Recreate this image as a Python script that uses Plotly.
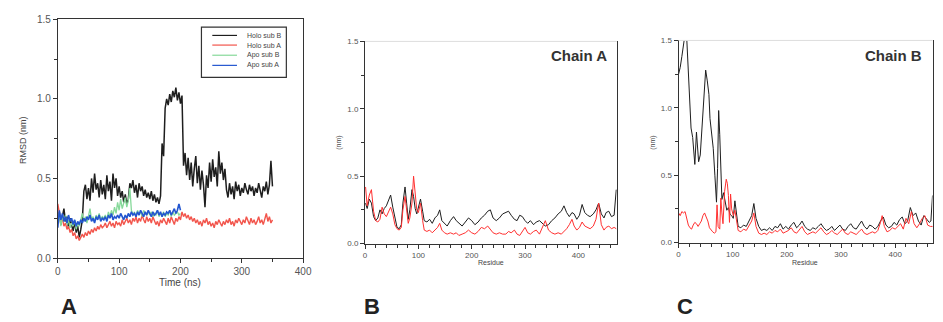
import numpy as np
import plotly.graph_objects as go

# ---------------- Panel A data (RMSD vs time, sampled every 2.5 ns) ----------------
dt = 2.5
holo_sub_b = [
    0.22, 0.29, 0.21, 0.27, 0.31, 0.23, 0.26, 0.19, 0.25, 0.21,
    0.17, 0.23, 0.16, 0.20, 0.13, 0.18, 0.24, 0.42, 0.46, 0.37,
    0.44, 0.36, 0.50, 0.41, 0.53, 0.43, 0.47, 0.38, 0.49, 0.40,
    0.46, 0.37, 0.52, 0.42, 0.48, 0.36, 0.53, 0.44, 0.50, 0.39,
    0.45, 0.38, 0.42, 0.35, 0.40, 0.34, 0.37, 0.47, 0.44, 0.49,
    0.41, 0.46, 0.38, 0.47, 0.42, 0.45, 0.39, 0.43, 0.38, 0.41,
    0.37, 0.42, 0.36, 0.40, 0.35, 0.38, 0.34, 0.39, 0.72, 0.64,
    0.94, 1.00, 0.96, 1.03, 0.98, 1.05, 1.01, 1.07, 0.99, 1.04,
    0.97, 1.02, 0.58, 0.66, 0.52, 0.63, 0.49, 0.60, 0.45, 0.56,
    0.64, 0.47, 0.58, 0.43, 0.55, 0.46, 0.32, 0.52, 0.44, 0.60,
    0.48, 0.62, 0.51, 0.57, 0.45, 0.67, 0.53, 0.60, 0.49, 0.56,
    0.43, 0.38, 0.47, 0.40, 0.45, 0.37, 0.48, 0.42, 0.46, 0.39,
    0.44, 0.41, 0.47, 0.43, 0.40, 0.46, 0.42, 0.45, 0.39, 0.44,
    0.41, 0.47, 0.43, 0.38, 0.45, 0.42, 0.48, 0.40, 0.46, 0.61,
    0.45,
]
holo_sub_a = [
    0.34, 0.27, 0.23, 0.25, 0.20, 0.22, 0.18, 0.20, 0.16, 0.18,
    0.14, 0.16, 0.12, 0.14, 0.11, 0.13, 0.15, 0.13, 0.16, 0.14,
    0.17, 0.15, 0.18, 0.16, 0.19, 0.17, 0.20, 0.18, 0.21, 0.19,
    0.20, 0.22, 0.19, 0.21, 0.23, 0.20, 0.22, 0.19, 0.23, 0.21,
    0.22, 0.20, 0.24, 0.21, 0.23, 0.25, 0.22, 0.24, 0.21, 0.25,
    0.23, 0.26, 0.22, 0.25, 0.23, 0.27, 0.24, 0.22, 0.26, 0.23,
    0.25, 0.22, 0.26, 0.24, 0.21, 0.23, 0.20, 0.24, 0.22, 0.25,
    0.23, 0.21, 0.25, 0.22, 0.26, 0.24, 0.21, 0.25, 0.23, 0.26,
    0.24, 0.29, 0.26, 0.28, 0.25, 0.27, 0.24, 0.26, 0.23, 0.25,
    0.22, 0.24, 0.21, 0.23, 0.20, 0.24, 0.22, 0.25, 0.21, 0.23,
    0.20, 0.22, 0.19, 0.23, 0.21, 0.24, 0.22, 0.20, 0.23, 0.21,
    0.24, 0.22, 0.25, 0.21, 0.23, 0.20, 0.24, 0.22, 0.25, 0.23,
    0.21, 0.24, 0.22, 0.26, 0.23, 0.21, 0.25, 0.22, 0.24, 0.21,
    0.23, 0.26, 0.22, 0.24, 0.21, 0.25, 0.28, 0.23, 0.26, 0.22,
    0.24,
]
apo_sub_b = [
    0.22, 0.28, 0.20, 0.26, 0.23, 0.27, 0.21, 0.24, 0.19, 0.22,
    0.20, 0.24, 0.18, 0.22, 0.20, 0.25, 0.28, 0.23, 0.26, 0.22,
    0.27, 0.31, 0.24, 0.26, 0.23, 0.27, 0.25, 0.28, 0.24, 0.26,
    0.25, 0.27, 0.24, 0.29, 0.26, 0.30, 0.27, 0.32, 0.28, 0.35,
    0.30, 0.37, 0.31, 0.34, 0.38, 0.32, 0.36, 0.44, 0.30, 0.27,
    0.29, 0.26, 0.30, 0.27, 0.29, 0.26, 0.30, 0.28, 0.27, 0.29,
    0.27, 0.29, 0.26, 0.28, 0.27, 0.30, 0.26, 0.28, 0.27, 0.29,
    0.26, 0.28, 0.27, 0.30, 0.26, 0.29, 0.27, 0.28, 0.29, 0.27,
    0.28,
]
apo_sub_a = [
    0.19, 0.30, 0.24, 0.28, 0.23, 0.26, 0.22, 0.27, 0.23, 0.25,
    0.21, 0.24, 0.20, 0.23, 0.21, 0.24, 0.22, 0.25, 0.23, 0.26,
    0.24, 0.27, 0.23, 0.25, 0.22, 0.26, 0.24, 0.27, 0.23, 0.25,
    0.24, 0.26, 0.23, 0.27, 0.25, 0.28, 0.24, 0.26, 0.25, 0.27,
    0.25, 0.28, 0.26, 0.24, 0.27, 0.25, 0.28, 0.26, 0.29, 0.27,
    0.28, 0.26, 0.29, 0.27, 0.30, 0.28, 0.26, 0.29, 0.27, 0.30,
    0.28, 0.26, 0.29, 0.27, 0.28, 0.30, 0.27, 0.29, 0.26, 0.28,
    0.27, 0.29, 0.28, 0.30, 0.27, 0.29, 0.31, 0.28, 0.30, 0.34,
    0.30,
]

# ---------------- Panel B data (Chain A RMSF) ----------------
chainA_black_res = [1, 4, 8, 12, 16, 20, 24, 28, 32, 36, 40, 44, 48, 52, 56, 60, 64, 68, 71, 75, 78, 81, 84, 88, 91, 94, 97, 100, 104, 108,
                    111, 116, 121, 126, 131, 136, 140, 144, 149, 154, 160, 166, 171, 176, 182, 188, 194, 200, 206, 212, 218, 224, 230, 235,
                    240, 246, 252, 258, 264, 269, 274, 280, 285, 290, 295, 300, 305, 310, 316, 321, 327, 333, 338, 344, 350, 356, 362, 368,
                    373, 378, 383, 388, 392, 397, 402, 407, 412, 417, 422, 428, 433, 438, 443, 448, 452, 457, 462, 467, 471]
chainA_black_val = [0.30, 0.26, 0.33, 0.30, 0.20, 0.17, 0.19, 0.25, 0.22, 0.26, 0.28, 0.32, 0.36, 0.27, 0.18, 0.12, 0.11, 0.14, 0.30, 0.42,
                    0.30, 0.18, 0.25, 0.40, 0.35, 0.26, 0.22, 0.26, 0.33, 0.24, 0.17, 0.16, 0.18, 0.15, 0.19, 0.21, 0.25, 0.17, 0.15, 0.13,
                    0.17, 0.20, 0.17, 0.15, 0.13, 0.16, 0.19, 0.17, 0.14, 0.16, 0.19, 0.21, 0.24, 0.25, 0.19, 0.17, 0.19, 0.22, 0.23, 0.24,
                    0.21, 0.18, 0.17, 0.21, 0.20, 0.17, 0.15, 0.17, 0.14, 0.16, 0.17, 0.15, 0.13, 0.14, 0.17, 0.19, 0.22, 0.24, 0.28, 0.23,
                    0.20, 0.23, 0.22, 0.18, 0.21, 0.29, 0.23, 0.21, 0.20, 0.22, 0.25, 0.30, 0.22, 0.19, 0.23, 0.24, 0.20, 0.21, 0.40]
chainA_red_res = chainA_black_res
chainA_red_val = [0.42, 0.28, 0.36, 0.40, 0.24, 0.17, 0.16, 0.18, 0.27, 0.22, 0.20, 0.24, 0.27, 0.22, 0.14, 0.11, 0.10, 0.12, 0.25, 0.35,
                  0.26, 0.15, 0.19, 0.30, 0.50, 0.35, 0.25, 0.23, 0.30, 0.17, 0.10, 0.09, 0.10, 0.08, 0.10, 0.12, 0.15, 0.10, 0.08, 0.07,
                  0.08, 0.07, 0.08, 0.06, 0.07, 0.08, 0.10, 0.08, 0.07, 0.09, 0.12, 0.11, 0.13, 0.10, 0.08, 0.07, 0.08, 0.07, 0.07, 0.09,
                  0.08, 0.10, 0.07, 0.06, 0.09, 0.12, 0.08, 0.07, 0.09, 0.10, 0.07, 0.12, 0.17, 0.10, 0.08, 0.07, 0.08, 0.07, 0.09, 0.11,
                  0.14, 0.18, 0.13, 0.10, 0.12, 0.16, 0.13, 0.12, 0.11, 0.13, 0.18, 0.30, 0.14, 0.10, 0.12, 0.13, 0.11, 0.12, 0.11]

# ---------------- Panel C data (Chain B RMSF) ----------------
chainB_black_res = [0, 3, 6, 9, 12, 15, 18, 21, 23, 26, 28, 30, 33, 35, 37, 40, 42, 45, 48, 50, 53, 56, 58, 61, 64, 67, 70, 72, 74, 76,
                    78, 80, 83, 86, 89, 92, 95, 98, 101, 104, 107, 110, 115, 120, 125, 130, 135, 139, 143, 148, 153, 158, 163, 168, 173,
                    178, 183, 188, 193, 198, 203, 208, 213, 218, 223, 228, 233, 238, 243, 248, 253, 258, 263, 268, 273, 278, 283, 288,
                    293, 298, 303, 308, 313, 318, 323, 328, 333, 338, 343, 348, 353, 358, 363, 368, 373, 378, 383, 388, 393, 398, 403,
                    408, 413, 418, 423, 428, 433, 438, 443, 448, 453, 458, 463, 466, 469]
chainB_black_val = [1.25, 1.30, 1.38, 1.45, 1.55, 1.52, 1.30, 1.05, 0.85, 0.78, 0.66, 0.58, 0.82, 0.72, 0.60, 0.65, 0.78, 1.00, 1.18, 1.28,
                    1.20, 1.10, 0.92, 0.80, 0.70, 0.50, 0.30, 0.55, 0.98, 0.80, 0.55, 0.32, 0.37, 0.30, 0.24, 0.26, 0.21, 0.20, 0.18, 0.31,
                    0.22, 0.12, 0.11, 0.13, 0.12, 0.16, 0.20, 0.29, 0.18, 0.12, 0.09, 0.10, 0.09, 0.11, 0.09, 0.12, 0.11, 0.14, 0.10, 0.12,
                    0.10, 0.13, 0.15, 0.11, 0.13, 0.16, 0.12, 0.10, 0.09, 0.11, 0.10, 0.12, 0.14, 0.11, 0.09, 0.10, 0.12, 0.09, 0.11, 0.13,
                    0.10, 0.09, 0.12, 0.14, 0.11, 0.10, 0.13, 0.16, 0.12, 0.10, 0.13, 0.12, 0.10, 0.12, 0.16, 0.19, 0.13, 0.11, 0.12, 0.15,
                    0.13, 0.17, 0.19, 0.14, 0.16, 0.26, 0.20, 0.22, 0.16, 0.13, 0.20, 0.17, 0.15, 0.16, 0.35]
chainB_red_res = [0, 3, 6, 9, 12, 15, 18, 21, 24, 27, 30, 33, 36, 39, 42, 45, 48, 51, 54, 57, 60, 63, 66, 69, 71, 73, 76, 78, 80, 82,
                  85, 88, 90, 92, 94, 96, 98, 101, 104, 107, 110, 115, 120, 125, 130, 135, 139, 143, 148, 153, 158, 163, 168, 173, 178,
                  183, 188, 193, 198, 203, 208, 213, 218, 223, 228, 233, 238, 243, 248, 253, 258, 263, 268, 273, 278, 283, 288, 293, 298,
                  303, 308, 313, 318, 323, 328, 333, 338, 343, 348, 353, 358, 363, 368, 373, 376, 380, 385, 390, 395, 400, 405, 410, 415,
                  420, 425, 430, 435, 440, 445, 450, 455, 460, 465, 470]
chainB_red_val = [0.22, 0.20, 0.23, 0.22, 0.23, 0.17, 0.13, 0.11, 0.10, 0.13, 0.15, 0.14, 0.12, 0.14, 0.16, 0.20, 0.22, 0.19, 0.16, 0.11,
                  0.09, 0.08, 0.07, 0.08, 0.28, 0.12, 0.10, 0.33, 0.22, 0.14, 0.38, 0.47, 0.44, 0.35, 0.15, 0.36, 0.25, 0.20, 0.24, 0.15,
                  0.09, 0.08, 0.10, 0.09, 0.12, 0.16, 0.22, 0.12, 0.07, 0.06, 0.07, 0.06, 0.08, 0.07, 0.09, 0.08, 0.10, 0.07, 0.08, 0.09,
                  0.11, 0.08, 0.07, 0.10, 0.12, 0.08, 0.06, 0.07, 0.08, 0.07, 0.09, 0.11, 0.08, 0.06, 0.07, 0.09, 0.07, 0.06, 0.08, 0.10,
                  0.07, 0.06, 0.08, 0.07, 0.06, 0.08, 0.10, 0.07, 0.06, 0.07, 0.08, 0.07, 0.09, 0.15, 0.20, 0.12, 0.08, 0.09, 0.11, 0.10,
                  0.12, 0.14, 0.10, 0.18, 0.14, 0.23, 0.14, 0.11, 0.14, 0.18, 0.20, 0.13, 0.12, 0.12]

legend_names = ["Holo sub B", "Holo sub A", "Apo sub B", "Apo sub A"]
col_black = "#1e1e1e"
col_red = "#f2554c"
col_green = "#86d99a"
col_blue = "#2356d0"
col_red_b = "#ff3030"
legend_colors = [col_black, col_red, col_green, col_blue]

W, H = 943, 322
def px(x):
    return x / W
def py(y):
    return 1 - y / H

FONT = "Liberation Sans, Arial, sans-serif"
t_holo = np.arange(len(holo_sub_b)) * dt
t_apo = np.arange(len(apo_sub_b)) * dt

fig = go.Figure()
fig.add_trace(go.Scatter(x=t_holo, y=holo_sub_b, mode="lines", name=legend_names[0],
                         line=dict(color=col_black, width=1.5), xaxis="x", yaxis="y"))
fig.add_trace(go.Scatter(x=t_holo, y=holo_sub_a, mode="lines", name=legend_names[1],
                         line=dict(color=col_red, width=1.4), xaxis="x", yaxis="y"))
fig.add_trace(go.Scatter(x=t_apo, y=apo_sub_b, mode="lines", name=legend_names[2],
                         line=dict(color=col_green, width=1.3), xaxis="x", yaxis="y"))
fig.add_trace(go.Scatter(x=t_apo, y=apo_sub_a, mode="lines", name=legend_names[3],
                         line=dict(color=col_blue, width=1.6), xaxis="x", yaxis="y"))

fig.add_trace(go.Scatter(x=chainA_black_res, y=chainA_black_val, mode="lines",
                         line=dict(color=col_black, width=1), xaxis="x2", yaxis="y2"))
fig.add_trace(go.Scatter(x=chainA_red_res, y=chainA_red_val, mode="lines",
                         line=dict(color=col_red_b, width=1), xaxis="x2", yaxis="y2"))
fig.add_trace(go.Scatter(x=chainB_black_res, y=chainB_black_val, mode="lines",
                         line=dict(color=col_black, width=1), xaxis="x3", yaxis="y3"))
fig.add_trace(go.Scatter(x=chainB_red_res, y=chainB_red_val, mode="lines",
                         line=dict(color=col_red_b, width=1), xaxis="x3", yaxis="y3"))

axcommon = dict(showgrid=False, zeroline=False, showline=True, linecolor="#333", linewidth=1,
                ticks="outside", tickcolor="#333", tickwidth=1)

def xax(domain, anchor, tickfont, minor_dtick, mirror, rng):
    return dict(axcommon, domain=domain, anchor=anchor, range=rng,
                tickvals=[0, 100, 200, 300, 400], ticklen=4, tickfont=tickfont, mirror=mirror,
                minor=dict(ticks="outside", ticklen=3, dtick=minor_dtick, tick0=0, tickcolor="#333"))

def yax(domain, anchor, tickfont):
    return dict(axcommon, domain=domain, anchor=anchor, range=[0, 1.5],
                tickvals=[0, 0.5, 1.0, 1.5], ticktext=["0.0", "0.5", "1.0", "1.5"], ticklen=4,
                tickfont=tickfont, mirror=True,
                minor=dict(ticks="outside", ticklen=3, dtick=0.25, tick0=0, tickcolor="#333"))

fA = dict(family=FONT, size=10, color="#555")
fB = dict(family=FONT, size=8, color="#555")

fig.update_layout(
    width=W, height=H, margin=dict(l=0, r=0, t=0, b=0),
    paper_bgcolor="white", plot_bgcolor="white", showlegend=False,
    xaxis=xax([px(55.5), px(304)], "y", fA, 50, True, [0, 400]),
    yaxis=yax([py(262), py(14.7)], "x", fA),
    xaxis2=xax([px(366.7), px(621.7)], "y2", fB, 20, False, [0, 472]),
    yaxis2=yax([py(247), py(37.7)], "x2", fB),
    xaxis3=xax([px(684.3), px(941.5)], "y3", fB, 20, False, [0, 469]),
    yaxis3=yax([py(246), py(36.7)], "x3", fB),
)

shapes = [
    dict(type="line", xref="paper", yref="paper", x0=px(366.7), x1=px(621.7), y0=py(37.7), y1=py(37.7),
         line=dict(color="#ddd", width=1)),
    dict(type="line", xref="paper", yref="paper", x0=px(684.3), x1=px(941.5), y0=py(36.7), y1=py(36.7),
         line=dict(color="#ddd", width=1)),
    # legend box
    dict(type="rect", xref="paper", yref="paper", x0=px(201), x1=px(287), y0=py(75), y1=py(23),
         line=dict(color="#333", width=1.2), fillcolor="white", layer="above"),
]
ann = []
legend_rows = [31.5, 41.5, 52.0, 62.5]
for name, c, yy in zip(legend_names, legend_colors, legend_rows):
    shapes.append(dict(type="line", xref="paper", yref="paper", x0=px(212), x1=px(237), y0=py(yy), y1=py(yy),
                       line=dict(color=c, width=1.2), layer="above"))
    ann.append(dict(text=name, x=px(245), y=py(yy), xref="paper", yref="paper", showarrow=False,
                    xanchor="left", yanchor="middle", font=dict(family=FONT, size=7, color="#444")))
fig.update_layout(shapes=shapes)

def add_text(text, x, y, size, bold=False, angle=0, color="#444"):
    ann.append(dict(text=f"<b>{text}</b>" if bold else text, x=px(x), y=py(y), xref="paper", yref="paper",
                    showarrow=False, xanchor="center", yanchor="middle", textangle=angle,
                    font=dict(family=FONT, size=size, color=color)))

add_text("Time (ns)", 179, 287, 10)
add_text("RMSD (nm)", 20, 140, 9, angle=-90)
add_text("A", 67, 312, 22, bold=True, color="#222")
add_text("Residue", 494, 267, 7)
add_text("(nm)", 340, 143, 7, angle=-90)
add_text("B", 374, 312, 22, bold=True, color="#222")
add_text("Chain A", 583, 52, 15, bold=True, color="#333")
add_text("Residue", 812, 267, 7)
add_text("(nm)", 658, 143, 7, angle=-90)
add_text("C", 691, 312, 22, bold=True, color="#222")
add_text("Chain B", 902, 52, 15, bold=True, color="#333")
fig.update_layout(annotations=ann)

fig.write_html("out.html")
